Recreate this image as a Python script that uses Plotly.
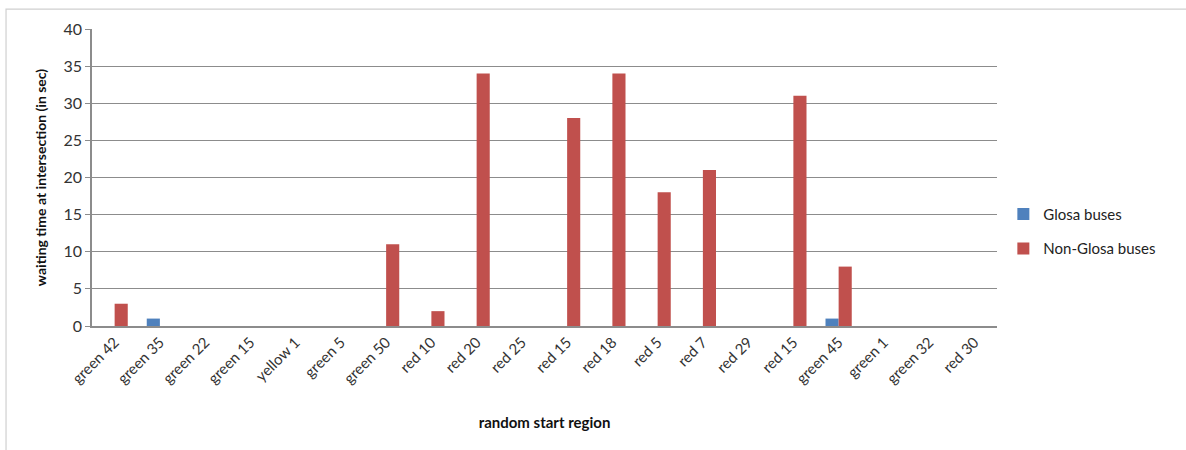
import plotly.graph_objects as go

regions = ["green 42", "green 35", "green 22", "green 15", "yellow 1", "green 5",
           "green 50", "red 10", "red 20", "red 25", "red 15", "red 18", "red 5",
           "red 7", "red 29", "red 15", "green 45", "green 1", "green 32", "red 30"]
glosa = [0, 1, 0, 0, 0, 0, 0, 0, 0, 0, 0, 0, 0, 0, 0, 0, 1, 0, 0, 0]
non_glosa = [3, 0, 0, 0, 0, 0, 11, 2, 34, 0, 28, 34, 18, 21, 0, 31, 8, 0, 0, 0]
y_ticks = [0, 5, 10, 15, 20, 25, 30, 35, 40]

# regions repeat ("red 15"), so bars sit on integer positions labelled by name
pos = list(range(len(regions)))

FONT = "Lato, Open Sans, sans-serif"

fig = go.Figure()
fig.add_trace(go.Bar(x=pos, y=glosa, name="Glosa buses", legendgroup="g",
                     marker=dict(color="#4F81BD", line=dict(width=0))))
fig.add_trace(go.Bar(x=pos, y=non_glosa, name="Non-Glosa buses", legendgroup="n",
                     marker=dict(color="#C0504D", line=dict(width=0))))

fig.update_layout(
    width=1186, height=450,
    margin=dict(l=92, r=189, t=29, b=124, autoexpand=False),
    paper_bgcolor="white", plot_bgcolor="white",
    barmode="group", bargap=0.42, bargroupgap=0.0,
    font=dict(family=FONT, color="#333333"),
    legend=dict(xref="container", yref="container", x=0.846, y=0.486,
                xanchor="left", yanchor="middle",
                font=dict(size=15, color="#222222"),
                itemwidth=30, tracegroupgap=12, bgcolor="rgba(0,0,0,0)"),
    showlegend=True,
    shapes=[dict(type="rect", xref="paper", yref="paper",
                 x0=-0.095, x1=1.3, y0=-0.6, y1=1.067,
                 line=dict(color="#D0D0D0", width=1.2), layer="below")],
)

fig.update_xaxes(
    range=[-0.5, len(regions) - 0.5],
    tickmode="array", tickvals=pos, ticktext=regions,
    tickangle=-45, tickfont=dict(size=15, color="#333333"),
    showgrid=False, showline=True, linecolor="#8C8C8C", linewidth=1.5,
    ticks="", zeroline=False, automargin=False,
    title=dict(text="<b>random start region</b>", font=dict(size=15, color="#111111"),
               standoff=32),
)
fig.update_yaxes(
    range=[0, 40], tickmode="array", tickvals=y_ticks,
    tickfont=dict(size=16, color="#333333"),
    showgrid=True, gridcolor="#8C8C8C", gridwidth=1.2,
    showline=True, linecolor="#8C8C8C", linewidth=1.5,
    ticks="outside", ticklen=5, tickcolor="#8C8C8C",
    zeroline=False, automargin=False,
    title=dict(text="<b>waiting time at intersection (in sec)</b>",
               font=dict(size=14, color="#111111"), standoff=14),
)

fig.write_html("out.html")
